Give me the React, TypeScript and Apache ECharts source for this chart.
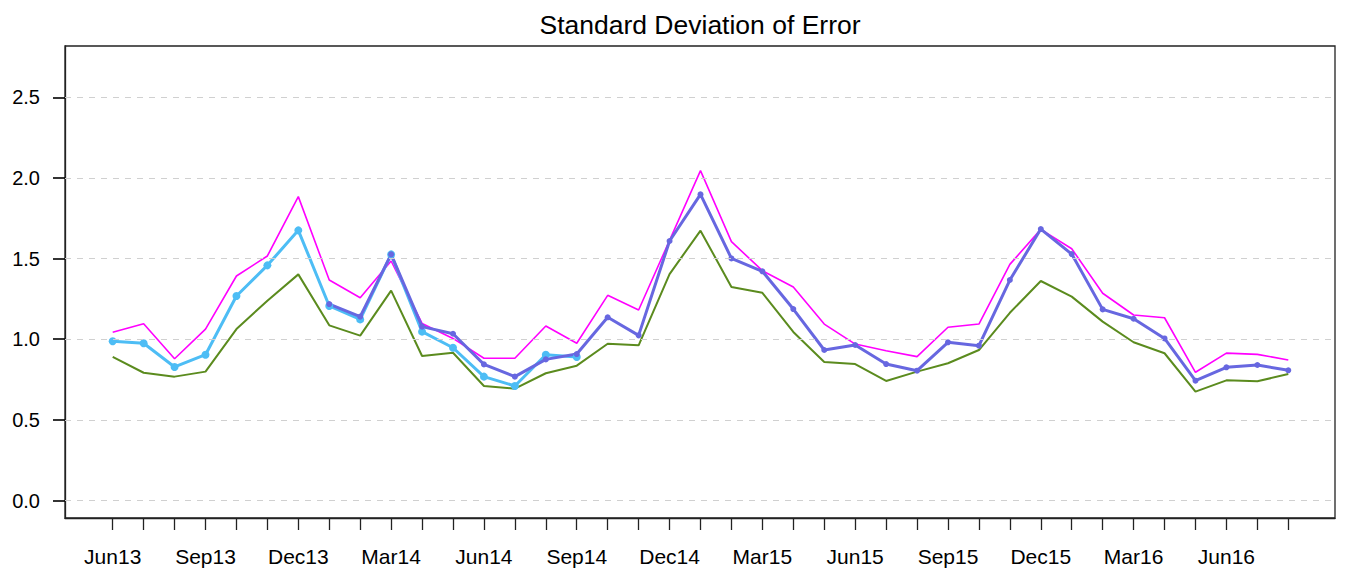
import React, { useEffect, useRef } from "react";
import * as echarts from "echarts";

const months = [
  "Jun13", "Jul13", "Aug13", "Sep13", "Oct13", "Nov13", "Dec13",
  "Jan14", "Feb14", "Mar14", "Apr14", "May14", "Jun14", "Jul14", "Aug14", "Sep14", "Oct14", "Nov14", "Dec14",
  "Jan15", "Feb15", "Mar15", "Apr15", "May15", "Jun15", "Jul15", "Aug15", "Sep15", "Oct15", "Nov15", "Dec15",
  "Jan16", "Feb16", "Mar16", "Apr16", "May16", "Jun16", "Jul16", "Aug16",
];

const labelIdx = [0, 3, 6, 9, 12, 15, 18, 21, 24, 27, 30, 33, 36];
const yTicks = [0, 0.5, 1.0, 1.5, 2.0, 2.5];

const upper = [
  1.043, 1.096, 0.879, 1.063, 1.392, 1.516, 1.884, 1.367, 1.257, 1.485,
  1.098, 1.005, 0.882, 0.882, 1.082, 0.975, 1.272, 1.181, 1.613, 2.045,
  1.605, 1.425, 1.324, 1.094, 0.97, 0.929, 0.892, 1.074, 1.094, 1.464,
  1.681, 1.561, 1.285, 1.15, 1.133, 0.795, 0.914, 0.906, 0.871,
];

const lower = [
  0.89, 0.792, 0.768, 0.799, 1.063, 1.239, 1.402, 1.086, 1.022, 1.301,
  0.896, 0.916, 0.71, 0.693, 0.789, 0.836, 0.972, 0.962, 1.404, 1.673,
  1.324, 1.288, 1.045, 0.859, 0.846, 0.741, 0.799, 0.851, 0.933, 1.164,
  1.361, 1.264, 1.109, 0.981, 0.913, 0.675, 0.745, 0.739, 0.784,
];

const lightBlue = [
  0.987, 0.975, 0.828, 0.904, 1.268, 1.458, 1.675, 1.206, 1.123, 1.526,
  1.047, 0.947, 0.768, 0.71, 0.904, 0.89,
];

const slateStart = 7;
const slate = [
  1.218, 1.14, 1.526, 1.078, 1.034, 0.844, 0.768, 0.875, 0.908, 1.136,
  1.024, 1.609, 1.898, 1.501, 1.421, 1.187, 0.933, 0.964, 0.846, 0.805,
  0.981, 0.96, 1.367, 1.683, 1.528, 1.185, 1.127, 1.005, 0.743, 0.826,
  0.84, 0.807,
];

const FONT = "'Liberation Sans', Arial, Helvetica, sans-serif";
const X_MIN = -1.542;
const X_MAX = 39.51;

export default function App() {
  const ref = useRef<HTMLDivElement>(null);

  useEffect(() => {
    if (!ref.current) return;
    const chart = echarts.init(ref.current, undefined, { renderer: "svg" });
    const pts = (arr: number[], start = 0) => arr.map((v, i) => [i + start, v]);

    chart.setOption({
      animation: false,
      backgroundColor: "#fff",
      graphic: [
        {
          type: "text",
          x: 700,
          y: 11,
          style: {
            text: "Standard Deviation of Error",
            fontFamily: FONT,
            fontSize: 26.5,
            fill: "#000",
            textAlign: "center",
            textVerticalAlign: "top",
          },
        },
      ],
      grid: {
        left: 65,
        right: 14,
        top: 46,
        bottom: 54,
        show: true,
        borderColor: "#222",
        borderWidth: 1.3,
        backgroundColor: "transparent",
      },
      xAxis: {
        type: "value",
        min: X_MIN,
        max: X_MAX,
        position: "bottom",
        axisLine: { show: true, onZero: false, lineStyle: { color: "#222", width: 1.3 } },
        splitLine: { show: false },
        axisTick: {
          show: true,
          length: 12,
          inside: false,
          customValues: months.map((_, i) => i),
          lineStyle: { color: "#222", width: 1.3 },
        },
        axisLabel: {
          customValues: labelIdx,
          formatter: (v: number) => months[Math.round(v)] ?? "",
          margin: 28,
          fontFamily: FONT,
          fontSize: 21,
          color: "#000",
        },
      },
      yAxis: {
        type: "value",
        min: -0.1085,
        max: 2.818,
        position: "left",
        axisLine: { show: true, onZero: false, lineStyle: { color: "#222", width: 1.3 } },
        splitLine: { show: false },
        axisTick: {
          show: true,
          length: 12,
          inside: false,
          customValues: yTicks,
          lineStyle: { color: "#000", width: 1.6 },
        },
        axisLabel: {
          customValues: yTicks,
          formatter: (v: number) => v.toFixed(1),
          margin: 25,
          fontFamily: FONT,
          fontSize: 20,
          color: "#000",
        },
      },
      series: [
        {
          type: "line",
          name: "grid",
          data: [],
          silent: true,
          markLine: {
            silent: true,
            symbol: ["none", "none"],
            label: { show: false },
            lineStyle: { color: "#d0d0d0", type: [6, 6], width: 1.2 },
            data: yTicks.map((v) => ({ yAxis: v })),
          },
        },
        {
          type: "line",
          name: "upper",
          data: pts(upper),
          showSymbol: false,
          symbol: "none",
          lineStyle: { color: "#ff00ff", width: 1.6 },
          itemStyle: { color: "#ff00ff" },
        },
        {
          type: "line",
          name: "lower",
          data: pts(lower),
          showSymbol: false,
          symbol: "none",
          lineStyle: { color: "#5b8b1e", width: 2 },
          itemStyle: { color: "#5b8b1e" },
        },
        {
          type: "line",
          name: "actual",
          data: pts(lightBlue),
          symbol: "circle",
          symbolSize: 8,
          lineStyle: { color: "#4dbdf5", width: 3 },
          itemStyle: { color: "#4dbdf5" },
        },
        {
          type: "line",
          name: "forecast",
          data: pts(slate, slateStart),
          symbol: "circle",
          symbolSize: 6,
          lineStyle: { color: "#6767e0", width: 3 },
          itemStyle: { color: "#6767e0" },
        },
      ],
    });

    return () => chart.dispose();
  }, []);

  return (
    <div
      ref={ref}
      style={{ position: "fixed", left: 0, top: 0, width: 1349, height: 572, background: "#fff" }}
    />
  );
}
